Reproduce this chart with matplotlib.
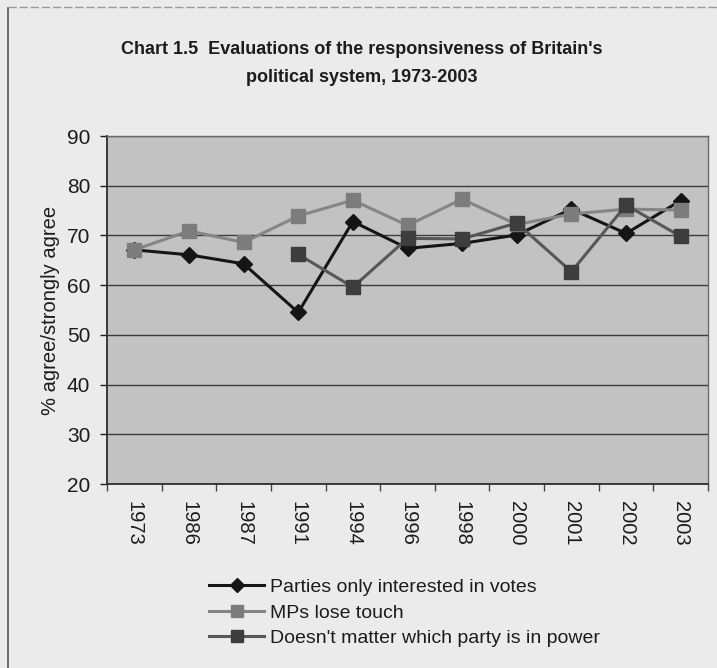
import matplotlib

matplotlib.use("Agg")

import matplotlib.pyplot as plt
from matplotlib.lines import Line2D

years = ["1973", "1986", "1987", "1991", "1994", "1996", "1998", "2000", "2001", "2002", "2003"]
parties_votes = [67.1, 66.1, 64.3, 54.5, 72.8, 67.4, 68.4, 70.1, 75.3, 70.4, 77.0]
mps_lose_touch = [67.1, 70.9, 68.6, 73.9, 77.1, 72.0, 77.3, 72.2, 74.3, 75.3, 75.1]
doesnt_matter = [None, None, None, 66.2, 59.6, 69.4, 69.3, 72.5, 62.7, 76.1, 69.8]

series_labels = [
    "Parties only interested in votes",
    "MPs lose touch",
    "Doesn't matter which party is in power",
]

PAGE = "#ebebeb"
PLOT_BG = "#c2c2c2"
GRID = "#3c3c3c"
INK = "#1c1c1c"
SANS = ["Liberation Sans", "DejaVu Sans"]

# (line colour, marker face, marker, marker size)
styles = [
    ("#151515", "#151515", "D", 8.5),
    ("#858585", "#7c7c7c", "s", 9.5),
    ("#575757", "#3d3d3d", "s", 9.5),
]

plt.rcParams["font.family"] = SANS

fig = plt.figure(figsize=(7.17, 6.68), dpi=100)
fig.patch.set_facecolor(PAGE)

# frame lines of the chart object along the left and top
fig.add_artist(Line2D([8 / 717, 8 / 717], [0, 1 - 8 / 668], transform=fig.transFigure,
                      color="#555555", linewidth=1.2))
fig.add_artist(Line2D([8 / 717, 1], [1 - 7 / 668, 1 - 7 / 668], transform=fig.transFigure,
                      color="#9a9a9a", linewidth=1.0, linestyle=(0, (6, 2))))

ax = fig.add_axes([107 / 717, 1 - 484 / 668, 601 / 717, 348 / 668])
ax.set_facecolor(PLOT_BG)

x = list(range(len(years)))
all_series = [parties_votes, mps_lose_touch, doesnt_matter]
for values, (lc, mc, mk, ms) in zip(all_series, styles):
    pts = [(xi, v) for xi, v in zip(x, values) if v is not None]
    ax.plot([p[0] for p in pts], [p[1] for p in pts], color=lc, linewidth=2.2,
            marker=mk, markersize=ms, markerfacecolor=mc, markeredgecolor=mc, zorder=3)

ax.set_xlim(-0.5, len(years) - 0.5)
ax.set_ylim(20, 90)
ax.set_yticks(range(20, 91, 10))
ax.tick_params(axis="y", labelsize=15, colors=INK, length=5, width=1, direction="out", pad=7)
ax.yaxis.grid(True, color=GRID, linewidth=1.0)
ax.set_axisbelow(True)

# category labels centred under each point, tick marks between categories
ax.set_xticks(x)
ax.set_xticklabels(years, rotation=270, fontsize=14.5, color=INK)
ax.tick_params(axis="x", which="major", length=0, pad=12)
ax.set_xticks([i - 0.5 for i in range(len(years) + 1)], minor=True)
ax.tick_params(axis="x", which="minor", length=5, width=1, color="#444444", direction="out")

for name, spine in ax.spines.items():
    spine.set_color("#2e2e2e" if name in ("left", "bottom") else "#6a6a6a")
    spine.set_linewidth(1.3 if name in ("left", "bottom") else 1.0)

ax.set_ylabel("% agree/strongly agree", fontsize=14.5, color=INK, labelpad=5)

fig.text(362 / 717, 1 - 50 / 668, "Chart 1.5  Evaluations of the responsiveness of Britain's",
         ha="center", va="center", fontsize=13, fontweight="bold", color=INK)
fig.text(362 / 717, 1 - 77 / 668, "political system, 1973-2003",
         ha="center", va="center", fontsize=13, fontweight="bold", color=INK)

handles = [
    Line2D([], [], color=lc, linewidth=2.2, marker=mk, markersize=ms - 1,
           markerfacecolor=mc, markeredgecolor=mc)
    for (lc, mc, mk, ms) in styles
]
fig.legend(handles, series_labels, loc="upper left",
           bbox_to_anchor=(192 / 717, 1 - 561 / 668), frameon=False,
           fontsize=14, handlelength=2.8, handletextpad=0.3, labelspacing=0.4,
           labelcolor=INK)

fig.savefig("out.png", dpi=100, facecolor=PAGE)
